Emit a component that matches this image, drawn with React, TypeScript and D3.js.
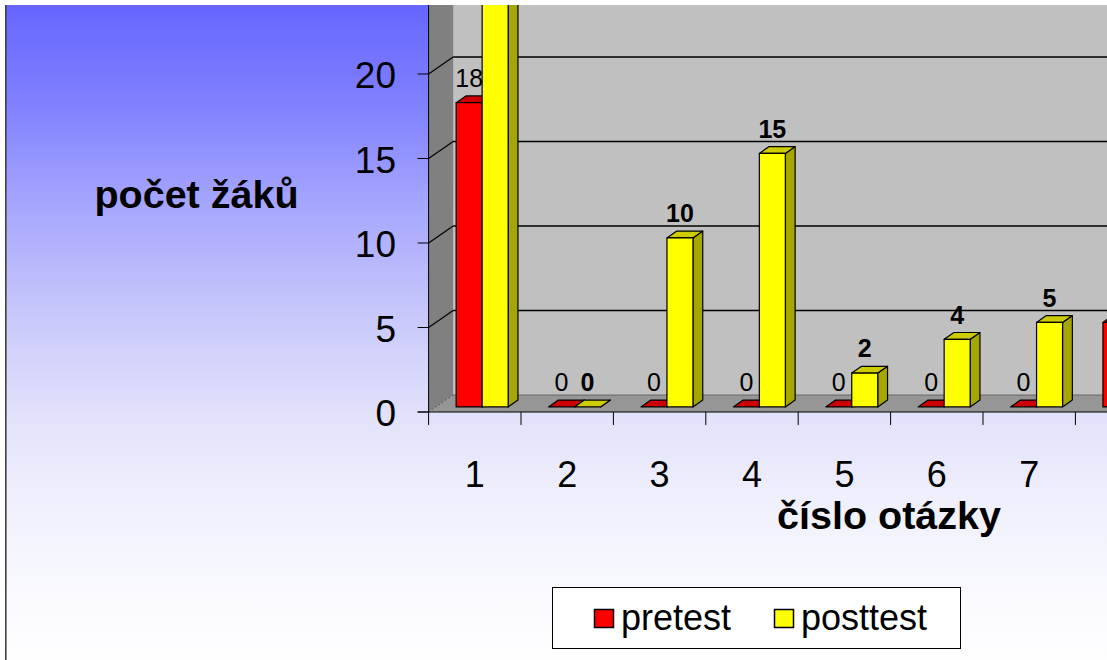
import React from 'react';
import * as d3 from 'd3';

const categories = ['1', '2', '3', '4', '5', '6', '7', '8'];
const seriesNames = ['pretest', 'posttest'];
const pretest: (number | null)[] = [18, 0, 0, 0, 0, 0, 0, 5];
const posttest: (number | null)[] = [25, 0, 10, 15, 2, 4, 5, null];
const yTickValues = [0, 5, 10, 15, 20];
const yTitle = 'počet žáků';
const xTitle = 'číslo otázky';

const W = 1107;
const H = 660;
const FONT = "'Liberation Sans', Arial, Helvetica, sans-serif";

const colors: Record<string, { front: string; top: string; side: string }> = {
  pretest: { front: '#FF0000', top: '#CC0000', side: '#A00000' },
  posttest: { front: '#FFFF00', top: '#CCCC00', side: '#A6A600' },
};

export default function App() {
  const x0 = 428.6;
  const band = 92.4;
  const x = d3
    .scaleBand<string>()
    .domain(categories)
    .range([x0, x0 + band * categories.length])
    .padding(0);
  const xs = d3
    .scaleBand<string>()
    .domain(seriesNames)
    .range([band * 0.2186, band * 0.7814]);
  const y = d3.scaleLinear().domain([0, 20]).range([412, 74]);
  const DX = 24.5;
  const DY = -17;
  const P = (px: number, py: number, d: number): [number, number] => [px + d * DX, py + d * DY];
  const pts = (arr: [number, number][]) => arr.map((p) => p.join(',')).join(' ');
  const dF = 0.3;
  const dB = 0.7;

  const yTop = -60;
  const xRight = W + 200;

  const gradStops: [number, string][] = [
    [0, 'rgb(102,102,255)'],
    [0.16, 'rgb(130,130,255)'],
    [0.3, 'rgb(165,165,255)'],
    [0.5, 'rgb(205,205,251)'],
    [0.63, 'rgb(226,226,251)'],
    [0.76, 'rgb(240,240,253)'],
    [0.91, 'rgb(250,250,255)'],
    [1, 'rgb(254,254,255)'],
  ];

  const values: Record<string, (number | null)[]> = { pretest, posttest };
  const visible = (tx: number, ty: number) => tx < W - 4 && ty - 5 > 0;

  const bars: JSX.Element[] = [];
  const labels: JSX.Element[] = [];
  categories.forEach((c, i) => {
    seriesNames.forEach((s) => {
      const v = values[s][i];
      if (v === null || v === undefined) return;
      const xl = (x(c) as number) + (xs(s) as number);
      const xr = xl + xs.bandwidth();
      const yb = y(0);
      const yt = y(v);
      const col = colors[s];
      const key = `${s}-${c}`;
      bars.push(
        <g key={key} stroke="#000" strokeWidth={1.2} strokeLinejoin="round">
          <polygon
            points={pts([P(xr, yt, dF), P(xr, yt, dB), P(xr, yb, dB), P(xr, yb, dF)])}
            fill={col.side}
          />
          <polygon
            points={pts([P(xl, yt, dF), P(xr, yt, dF), P(xr, yt, dB), P(xl, yt, dB)])}
            fill={col.top}
          />
          {v > 0 && (
            <polygon
              points={pts([P(xl, yt, dF), P(xr, yt, dF), P(xr, yb, dF), P(xl, yb, dF)])}
              fill={col.front}
            />
          )}
        </g>
      );
      const [lx] = P((xl + xr) / 2, yt, dF);
      const [, ly] = P(xl, yt, dB);
      if (visible(lx, ly - 9)) {
        labels.push(
          <text
            key={'l' + key}
            x={lx}
            y={ly - 9}
            textAnchor="middle"
            fontFamily={FONT}
            fontSize={25}
            fontWeight={s === 'posttest' ? 'bold' : 'normal'}
            fill="#000"
          >
            {v}
          </text>
        );
      }
    });
  });

  return (
    <svg
      width={W}
      height={H}
      style={{ position: 'absolute', left: 0, top: 0, background: '#fff' }}
      xmlns="http://www.w3.org/2000/svg"
    >
      <defs>
        <linearGradient id="bg" x1="0" y1="5" x2="0" y2={H} gradientUnits="userSpaceOnUse">
          {gradStops.map(([o, c]) => (
            <stop key={o} offset={o} stopColor={c} />
          ))}
        </linearGradient>
        <clipPath id="clip">
          <rect x={5} y={5} width={W - 5} height={H - 5} />
        </clipPath>
      </defs>
      <rect x={0} y={0} width={W} height={H} fill="#fff" />
      <g clipPath="url(#clip)">
        <rect x={5} y={5} width={W} height={H} fill="url(#bg)" />
        {/* back wall */}
        <rect
          x={P(x0, 0, 1)[0]}
          y={yTop}
          width={xRight}
          height={P(x0, y(0), 1)[1] - yTop}
          fill="#C0C0C0"
        />
        {/* side wall */}
        <polygon
          points={pts([[x0, y(0)], P(x0, y(0), 1), P(x0, yTop, 1), [x0, yTop]])}
          fill="#808080"
        />
        {/* floor */}
        <polygon
          points={pts([[x0, y(0)], P(x0, y(0), 1), P(xRight, y(0), 1), [xRight, y(0)]])}
          fill="#969696"
        />
        {/* gridlines */}
        {yTickValues.map((t) => (
          <g key={'g' + t} fill="none">
            <line
              x1={P(x0, y(t), 1)[0]}
              y1={P(x0, y(t), 1)[1]}
              x2={xRight}
              y2={P(x0, y(t), 1)[1]}
              strokeWidth={t === 0 ? 0.8 : 1.5}
              stroke={t === 0 ? '#555' : '#000'}
            />
            <line
              x1={x0}
              y1={y(t)}
              x2={P(x0, y(t), 1)[0]}
              y2={P(x0, y(t), 1)[1]}
              strokeWidth={t === 0 ? 0.8 : 1.2}
              strokeDasharray={t === 0 ? '2,2' : undefined}
              stroke={t === 0 ? '#444' : '#000'}
            />
          </g>
        ))}
        {/* y axis line */}
        <line x1={x0} y1={y(0)} x2={x0} y2={yTop} stroke="#000" strokeWidth={1} />
        {/* y ticks & labels */}
        {yTickValues.map((t) => (
          <g key={'yt' + t}>
            <line x1={x0 - 11} y1={y(t)} x2={x0} y2={y(t)} stroke="#000" strokeWidth={1} />
            <text
              x={396}
              y={y(t) + 14}
              textAnchor="end"
              fontFamily={FONT}
              fontSize={37}
              fill="#000"
            >
              {t}
            </text>
          </g>
        ))}
        {/* bars */}
        {bars}
        {labels}
        {/* x axis */}
        <line x1={x0 - 11} y1={y(0)} x2={xRight} y2={y(0)} stroke="#000" strokeWidth={1.2} />
        {d3.range(categories.length + 1).map((i) => (
          <line
            key={'xt' + i}
            x1={x0 + i * band}
            y1={y(0)}
            x2={x0 + i * band}
            y2={y(0) + 13}
            stroke="#000"
            strokeWidth={1}
          />
        ))}
        {categories
          .filter((c) => (x(c) as number) + x.bandwidth() / 2 - 12 < W)
          .map((c) => (
            <text
              key={'xl' + c}
              x={(x(c) as number) + x.bandwidth() / 2}
              y={487}
              textAnchor="middle"
              fontFamily={FONT}
              fontSize={36}
              fill="#000"
            >
              {c}
            </text>
          ))}
        {/* titles */}
        <text
          x={196.5}
          y={208}
          textAnchor="middle"
          fontFamily={FONT}
          fontSize={39.5}
          fontWeight="bold"
          fill="#000"
        >
          {yTitle}
        </text>
        <text
          x={889}
          y={529}
          textAnchor="middle"
          fontFamily={FONT}
          fontSize={39.5}
          fontWeight="bold"
          fill="#000"
        >
          {xTitle}
        </text>
        {/* legend */}
        <rect x={552.5} y={587.5} width={408} height={61} fill="#fff" stroke="#000" strokeWidth={1} />
        {seriesNames.map((s, i) => {
          const lx = i === 0 ? 594 : 774;
          return (
            <g key={'lg' + s}>
              <rect
                x={lx + 0.5}
                y={609.5}
                width={19}
                height={18}
                fill={colors[s].front}
                stroke="#000"
                strokeWidth={1.5}
              />
              <text x={lx + 27} y={630} fontFamily={FONT} fontSize={36} fill="#000">
                {s}
              </text>
            </g>
          );
        })}
        {/* left border */}
        <line x1={5.8} y1={5} x2={5.8} y2={H} stroke="#404040" strokeWidth={1.6} />
      </g>
    </svg>
  );
}
